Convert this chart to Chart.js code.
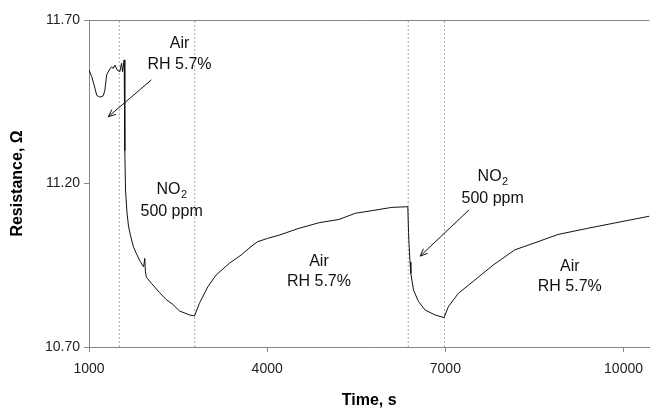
<!DOCTYPE html>
<html>
<head>
<meta charset="utf-8">
<script src="https://cdn.jsdelivr.net/npm/chart.js@4"></script>
<style>
html,body{margin:0;padding:0;background:#fff}
#wrap{width:652px;height:408px;position:relative}
</style>
</head>
<body>
<div id="wrap"><canvas id="chart"></canvas></div>
<script>
// sensor trace
const timeS = [1000,1045,1101,1129,1184,1240,1268,1297,1340,1380,1407,1436,1474,1520,1548,1565,1592,
  1603,1615,1640,1665,1700,1750,1800,1860,1920,1939,1950,1967,2050,2190,2300,2413,2525,2693,2777,
  2860,3000,3140,3363,3559,3727,3838,4005,4201,4536,4871,5207,5486,5765,6100,6368,
  6380,6391,6405,6419,6464,6548,6660,6827,6978,
  7050,7218,7498,7800,8168,8559,8894,9397,9844,10436];
const resistance = [11.547,11.527,11.491,11.470,11.464,11.468,11.486,11.532,11.547,11.557,11.552,11.562,11.547,11.542,11.568,11.542,11.578,
  11.300,11.180,11.110,11.070,11.040,11.005,10.985,10.962,10.945,10.971,10.930,10.913,10.895,10.866,10.845,10.830,10.810,10.798,10.795,
  10.834,10.884,10.920,10.956,10.981,11.007,11.022,11.032,11.042,11.063,11.080,11.090,11.109,11.117,11.127,11.129,
  11.050,11.007,10.960,10.925,10.874,10.839,10.813,10.798,10.790,
  10.823,10.864,10.905,10.950,10.997,11.022,11.044,11.063,11.079,11.100];
const switchTimes = [1510, 2780, 6375, 6985];
const xTicks = [1000, 4000, 7000, 10000];
const yTicks = [10.70, 11.20, 11.70];
const xRange = [1000, 10436];
const yRange = [10.70, 11.70];

// annotation text (data coords of line centres) and arrows
const notes = [
  {t:2525, r:[11.627,11.565], lines:['Air','RH 5.7%']},
  {t:2391, r:[11.180,11.113], lines:['NO|2','500 ppm']},
  {t:4872, r:[10.961,10.900], lines:['Air','RH 5.7%']},
  {t:7796, r:[11.221,11.155], lines:['NO|2','500 ppm']},
  {t:9095, r:[10.946,10.884], lines:['Air','RH 5.7%']}
];
const arrows = [
  {from:[2051,11.517], to:[1324,11.404]},
  {from:[7397,11.119], to:[6576,10.978]}
];

const FONT = "'Liberation Sans', Arial, sans-serif";
const AXIS = '#868686';

function drawLine(ctx, txt, x, y){
  const parts = txt.split('|');
  ctx.font = '16px ' + FONT;
  const w0 = ctx.measureText(parts[0]).width;
  let w1 = 0;
  if(parts[1]){ ctx.font = '11px ' + FONT; w1 = ctx.measureText(parts[1]).width; }
  const x0 = x - (w0 + w1)/2;
  ctx.textAlign = 'left'; ctx.textBaseline = 'middle';
  ctx.font = '16px ' + FONT;
  ctx.fillText(parts[0], x0, y);
  if(parts[1]){ ctx.font = '11px ' + FONT; ctx.fillText(parts[1], x0 + w0 + 0.5, y + 5); }
}

const decor = {
  id:'decor',
  afterDatasetsDraw(chart){
    const {ctx, chartArea:a, scales:{x, y}} = chart;
    ctx.save();
    // top frame line
    ctx.strokeStyle = AXIS; ctx.lineWidth = 1;
    ctx.beginPath(); ctx.moveTo(a.left - 5, a.top + 0.5); ctx.lineTo(a.right, a.top + 0.5); ctx.stroke();
    ctx.fillStyle = '#111';
    notes.forEach(n=>{
      n.lines.forEach((l,i)=>drawLine(ctx, l, x.getPixelForValue(n.t), y.getPixelForValue(n.r[i])));
    });
    ctx.strokeStyle = '#111';
    arrows.forEach(ar=>{
      const x1 = x.getPixelForValue(ar.from[0]), y1 = y.getPixelForValue(ar.from[1]);
      const x2 = x.getPixelForValue(ar.to[0]), y2 = y.getPixelForValue(ar.to[1]);
      const ang = Math.atan2(y2-y1, x2-x1), h = 8;
      ctx.beginPath(); ctx.moveTo(x1,y1); ctx.lineTo(x2,y2);
      ctx.moveTo(x2 - h*Math.cos(ang-0.4), y2 - h*Math.sin(ang-0.4)); ctx.lineTo(x2,y2);
      ctx.lineTo(x2 - h*Math.cos(ang+0.4), y2 - h*Math.sin(ang+0.4));
      ctx.stroke();
    });
    ctx.restore();
  }
};

const datasets = [{
  data: timeS.map((t,i)=>({x:t, y:resistance[i]})),
  borderColor:'#111', borderWidth:1, pointRadius:0, tension:0
}];
switchTimes.forEach(t=>datasets.push({
  data:[{x:t,y:yRange[0]},{x:t,y:yRange[1]}],
  borderColor:'#aaa', borderWidth:1, borderDash:[2,2], pointRadius:0
}));

new Chart(document.getElementById('chart').getContext('2d'),{
  type:'line',
  data:{datasets},
  plugins:[decor],
  options:{
    responsive:true, maintainAspectRatio:false, animation:false,
    layout:{padding:{top:20,right:0,left:0,bottom:0}},
    plugins:{legend:{display:false}, tooltip:{enabled:false}},
    scales:{
      x:{
        type:'linear', min:xRange[0], max:xRange[1],
        afterBuildTicks:s=>{ s.ticks = xTicks.map(v=>({value:v})); },
        afterFit:s=>{ s.height = 61; },
        grid:{drawOnChartArea:false, tickLength:5, color:AXIS},
        border:{color:AXIS},
        ticks:{color:'#222', font:{family:FONT, size:14}, padding:9, maxRotation:0, autoSkip:false, callback:v=>String(v)},
        title:{display:true, text:'Time, s', color:'#000', font:{family:FONT, size:16, weight:'bold', lineHeight:1}, padding:{top:0,bottom:-1}}
      },
      y:{
        type:'linear', min:yRange[0], max:yRange[1],
        afterBuildTicks:s=>{ s.ticks = yTicks.map(v=>({value:v})); },
        afterFit:s=>{ s.width = 89; },
        grid:{drawOnChartArea:false, tickLength:5, color:AXIS},
        border:{color:AXIS},
        ticks:{color:'#222', font:{family:FONT, size:14}, padding:4, callback:v=>v.toFixed(2)},
        title:{display:true, text:'Resistance, Ω', color:'#000', font:{family:FONT, size:16, weight:'bold', lineHeight:1.2}, padding:{top:8,bottom:0}}
      }
    }
  }
});
</script>
</body>
</html>
